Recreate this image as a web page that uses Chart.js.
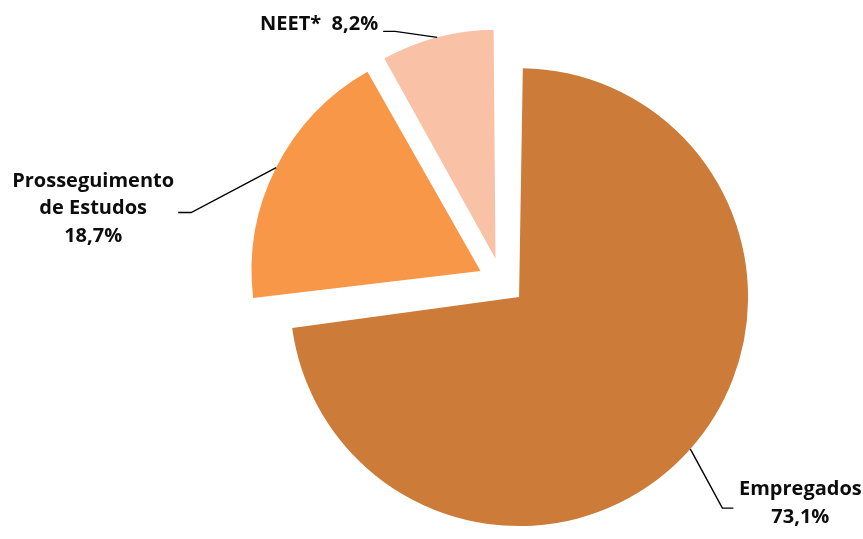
<!DOCTYPE html>
<html>
<head>
<meta charset="utf-8">
<script src="https://cdn.jsdelivr.net/npm/chart.js@4.4.0/dist/chart.umd.min.js"></script>
<style>
  html, body { margin: 0; padding: 0; background: #fff; }
  #wrap { width: 863px; height: 539px; }
</style>
</head>
<body>
<div id="wrap"><canvas id="chart"></canvas></div>
<script>
const categories = ['Empregados', 'Prosseguimento de Estudos', 'NEET*'];
const values = [73.1, 18.7, 8.2];
const labelLines = [
    ['Empregados', '73,1%'],
    ['Prosseguimento', 'de Estudos', '18,7%'],
    ['NEET*  8,2%']
];
const colors = ['#CC7B39', '#F79747', '#F9C2A7'];
const explode = 23.5;
const pieRadius = 229;

// leader line / text placement, relative to the point where the line touches the slice
const labelLayout = [
    { elbow: [32, 59], end: [43, 59], text: [110, 54], align: 'center' },
    { elbow: [-85, 45], end: [-98, 45], text: [-183, 41], align: 'center' },
    { elbow: [-42, -6], end: [-54, -6], text: [-59, -13], align: 'right' }
];

// chart.js v4 grows an exploded slice's radius by offset/4 * (1 - sin(angle));
// take that back out so every slice keeps the same radius
const evenRadius = {
    id: 'evenRadius',
    beforeDatasetsDraw(chart) {
        chart.getDatasetMeta(0).data.forEach(arc => {
            const fix = 1 - Math.sin(Math.min(Math.PI, arc.circumference));
            arc.outerRadius = pieRadius - explode * fix;
        });
    }
};

const leaderLabels = {
    id: 'leaderLabels',
    afterDraw(chart) {
        const ctx = chart.ctx;
        const arcs = chart.getDatasetMeta(0).data;
        ctx.save();
        ctx.font = 'bold 20px "Open Sans", Lato, sans-serif';
        ctx.textBaseline = 'middle';
        arcs.forEach((arc, i) => {
            const mid = (arc.startAngle + arc.endAngle) / 2;
            const r = pieRadius + explode;
            const px = arc.x + Math.cos(mid) * r;
            const py = arc.y + Math.sin(mid) * r;
            const lay = labelLayout[i];

            ctx.strokeStyle = '#000';
            ctx.lineWidth = 1.4;
            ctx.beginPath();
            ctx.moveTo(px, py);
            ctx.lineTo(px + lay.elbow[0], py + lay.elbow[1]);
            ctx.lineTo(px + lay.end[0], py + lay.end[1]);
            ctx.stroke();

            ctx.fillStyle = '#0D0D0D';
            ctx.textAlign = lay.align;
            const lines = labelLines[i];
            const lh = 27.5;
            const top = py + lay.text[1] - (lines.length - 1) * lh / 2;
            lines.forEach((t, j) => {
                ctx.fillText(t, px + lay.text[0], top + j * lh);
            });
        });
        ctx.restore();
    }
};

new Chart(document.getElementById('chart'), {
    type: 'pie',
    data: {
        labels: categories,
        datasets: [{
            data: values,
            backgroundColor: colors,
            borderWidth: 0,
            offset: explode * 4,
            hoverOffset: 0
        }]
    },
    options: {
        responsive: true,
        maintainAspectRatio: false,
        animation: false,
        cutout: '0%',
        radius: pieRadius,
        layout: { padding: { left: 140, right: 0, top: 24, bottom: 0 } },
        plugins: {
            legend: { display: false },
            tooltip: { enabled: false }
        }
    },
    plugins: [evenRadius, leaderLabels]
});
</script>
</body>
</html>
